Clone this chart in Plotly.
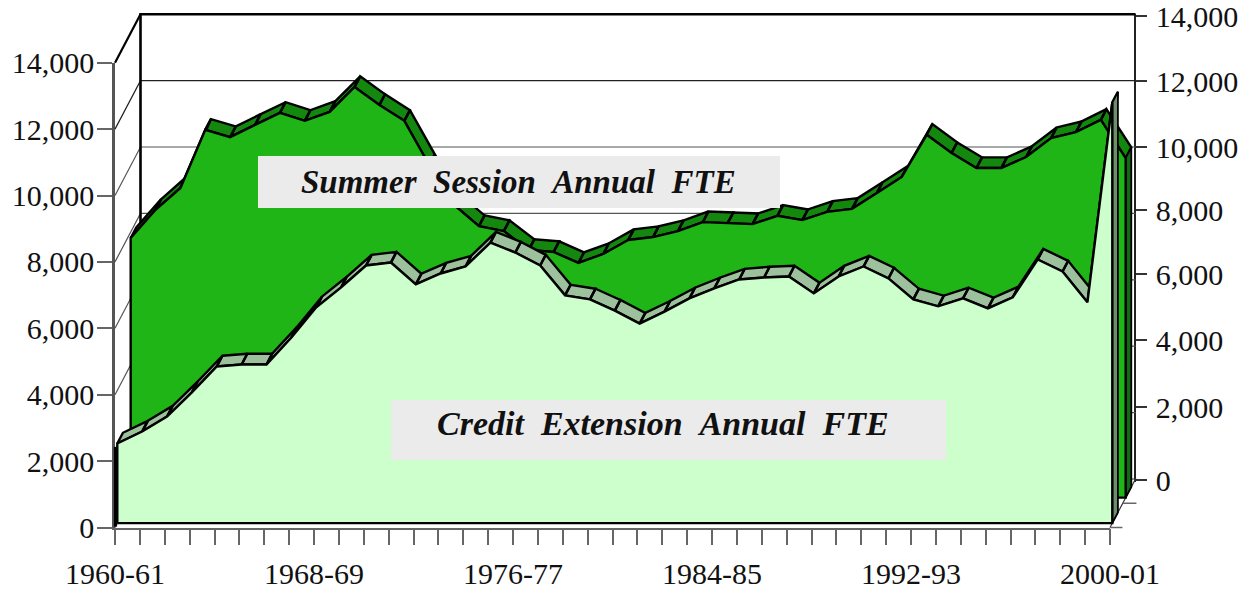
import plotly.graph_objects as go

W, H = 1251, 594

categories = ["1960-61","1961-62","1962-63","1963-64","1964-65","1965-66","1966-67","1967-68",
              "1968-69","1969-70","1970-71","1971-72","1972-73","1973-74","1974-75","1975-76",
              "1976-77","1977-78","1978-79","1979-80","1980-81","1981-82","1982-83","1983-84",
              "1984-85","1985-86","1986-87","1987-88","1988-89","1989-90","1990-91","1991-92",
              "1992-93","1993-94","1994-95","1995-96","1996-97","1997-98","1998-99","1999-00",
              "2000-01"]
credit_fte = [2400,2760,3210,3940,4720,4780,4780,5590,6500,7100,7760,7850,7190,7520,7730,8450,
              8150,7760,6860,6740,6400,6010,6370,6770,7070,7340,7400,7430,6920,7430,7730,7370,
              6740,6530,6770,6470,6800,7940,7580,6650,12670]
summer_fte = [7820,8670,9330,11080,10860,11230,11590,11350,11620,12370,11830,11350,10020,8820,
              8180,8030,7460,7400,7070,7340,7760,7850,8030,8300,8270,8240,8490,8360,8610,8700,
              9180,9660,10930,10380,9930,9930,10260,10830,11010,11380,10230]
y_ticks = [0,2000,4000,6000,8000,10000,12000,14000]
# where the right-hand axis of the source picture actually places its labelled ticks
right_tick_pos = [-30,2168,4185,6173,8100,9997,11984,13940]

# axis geometry (pixels) and depth of the 3-D box
X0, XEND, Y0, Y14 = 115, 1110, 527.5, 62.7
PX_X = (XEND - X0) / (len(categories) - 1)
PX_Y = (Y0 - Y14) / 14000
DEPTH_X = 25.5 / PX_X
DEPTH_Y = 48.5 / PX_Y
D_CREDIT, D_SUMMER, D_WIDTH = 0.09, 0.615, 0.22


def P(i, v, d):
    return i + d * DEPTH_X, v + d * DEPTH_Y


def path(points):
    xs, ys = [], []
    for p in points:
        if p is None:
            xs.append(None); ys.append(None)
        else:
            xs.append(p[0]); ys.append(p[1])
    return xs, ys


fig = go.Figure()
last = len(categories) - 1


def add(points, color="#000000", width=1.0, fill=None):
    xs, ys = path(points)
    fig.add_trace(go.Scatter(x=xs, y=ys, xaxis="x3", yaxis="y3", mode="lines",
                             line=dict(color=color, width=width),
                             fill="toself" if fill else "none", fillcolor=fill,
                             hoverinfo="skip", showlegend=False))


# dummy traces so that the left and right value axes exist
fig.add_trace(go.Scatter(x=[0], y=[0], xaxis="x", yaxis="y", mode="none", showlegend=False, hoverinfo="skip"))
fig.add_trace(go.Scatter(x=[0], y=[0], xaxis="x", yaxis="y2", mode="none", showlegend=False, hoverinfo="skip"))

# walls
for v in y_ticks[1:-1]:
    add([P(0, v, 0), P(0, v, 1), P(last, v, 1)], "#222222" if v >= 12000 else "#555555", 1.2)
add([P(0, 0, 0), P(0, 0, 1), P(last, 0, 1), P(last, 0, 0)], "#333333", 1.2)
add([P(0, 0, 1), P(0, 14000, 1), P(last, 14000, 1)], "#000000", 2.6)
add([P(0, 14000, 0), P(0, 14000, 1)], "#000000", 2.2)
add([P(last, 0, 0), P(last + 0.5, 0, 0)], "#666666", 1.5)
add([P(last, 0, 0.5), P(last + 0.55, 0, 0.5)], "#666666", 1.5)


def series(vals, d, band, cap, face):
    # top band, one closed cell per segment
    cells = []
    for i in range(last):
        cells += [P(i, vals[i], d), P(i + 1, vals[i + 1], d),
                  P(i + 1, vals[i + 1], d + D_WIDTH), P(i, vals[i], d + D_WIDTH),
                  P(i, vals[i], d), None]
    add(cells[:-1], "#000000", 2.4, band)
    # right-hand end
    add([P(last, 0, d), P(last, vals[-1], d), P(last, vals[-1], d + D_WIDTH),
         P(last, 0, d + D_WIDTH), P(last, 0, d)], "#000000", 1.8, cap)
    # front face
    outline = [P(0, 0, d)] + [P(i, vals[i], d) for i in range(last + 1)] + [P(last, 0, d), P(0, 0, d)]
    add(outline, "#000000", 2.4, face)


series(summer_fte, D_SUMMER, "#14870F", "#136A12", "#1FB516")
series(credit_fte, D_CREDIT, "#9DC09D", "#6E8F6E", "#CCFFCC")
# heavy edge at the left of the credit area, down to the corner of the box
add([P(0, 0, 0.02), P(0, credit_fte[0], 0.02)], "#000000", 3.2)

tick_text = [c if i % 8 == 0 else "" for i, c in enumerate(categories)]
serif = "Liberation Serif"
fig.update_layout(
    width=W, height=H, margin=dict(l=0, r=0, t=0, b=0),
    paper_bgcolor="white", plot_bgcolor="rgba(0,0,0,0)", showlegend=False,
    font=dict(family=serif, color="#111111", size=30),
    xaxis=dict(domain=[X0 / W, XEND / W], range=[0, last], tickmode="array", automargin=False,
               tickvals=list(range(last + 1)), ticktext=tick_text, ticks="outside", ticklen=16,
               tickcolor="#666666", tickwidth=1.5, showgrid=False, zeroline=False,
               showline=True, linecolor="#666666", linewidth=1.5, anchor="y", ticklabelstandoff=3,
               ticklabeloverflow="allow", tickfont=dict(family=serif, size=30), fixedrange=True),
    yaxis=dict(domain=[(H - Y0) / H, (H - Y14) / H], range=[0, 14000], tickvals=y_ticks, automargin=False,
               tickformat=",", ticks="outside", ticklen=15, tickcolor="#666666", tickwidth=1.5,
               showgrid=False, zeroline=False, showline=True, linecolor="#555555", linewidth=2.5,
               anchor="x", ticklabelstandoff=-3, ticklabeloverflow="allow",
               tickfont=dict(family=serif, size=30), fixedrange=True),
    yaxis2=dict(domain=[(H - Y0 + 48.5 - 100 * PX_Y) / H, (H - Y14 + 48.5) / H], range=[-100, 14000],
                tickmode="array", tickvals=right_tick_pos, ticktext=[f"{v:,}" for v in y_ticks],
                ticks="outside", ticklen=11, tickcolor="#333333", tickwidth=1.5,
                side="right", anchor="free", position=1135 / W, automargin=False,
                ticklabelstandoff=3, ticklabeloverflow="allow",
                showgrid=False, zeroline=False, showline=True, linecolor="#222222", linewidth=1.5,
                tickfont=dict(family=serif, size=30), fixedrange=True),
    xaxis3=dict(domain=[0, 1], range=[-X0 / PX_X, (W - X0) / PX_X], visible=False, fixedrange=True, automargin=False),
    yaxis3=dict(domain=[0, 1], range=[-(H - Y0) / PX_Y, Y0 / PX_Y], visible=False, fixedrange=True,
                anchor="x3", automargin=False),
    shapes=[
        dict(type="rect", xref="paper", yref="paper", x0=258 / W, x1=780 / W, y0=1 - 208 / H, y1=1 - 156 / H,
             fillcolor="#EBEBEB", line=dict(width=0), layer="above"),
        dict(type="rect", xref="paper", yref="paper", x0=391 / W, x1=946 / W, y0=1 - 460 / H, y1=1 - 400 / H,
             fillcolor="#EBEBEB", line=dict(width=0), layer="above"),
    ],
    annotations=[
        dict(xref="paper", yref="paper", x=518.5 / W, y=1 - 182 / H, showarrow=False,
             text="<b><i>Summer\u00a0\u00a0Session\u00a0\u00a0Annual\u00a0\u00a0FTE</i></b>",
             font=dict(family=serif, size=33, color="#111111"), xanchor="center", yanchor="middle"),
        dict(xref="paper", yref="paper", x=662.5 / W, y=1 - 423 / H, showarrow=False,
             text="<b><i>Credit\u00a0\u00a0Extension\u00a0\u00a0Annual\u00a0\u00a0FTE</i></b>",
             font=dict(family=serif, size=34, color="#111111"), xanchor="center", yanchor="middle"),
    ],
)
fig.write_html("out.html", config=dict(displayModeBar=False),
               post_script="document.body.style.margin='0';document.body.style.overflow='hidden';")
